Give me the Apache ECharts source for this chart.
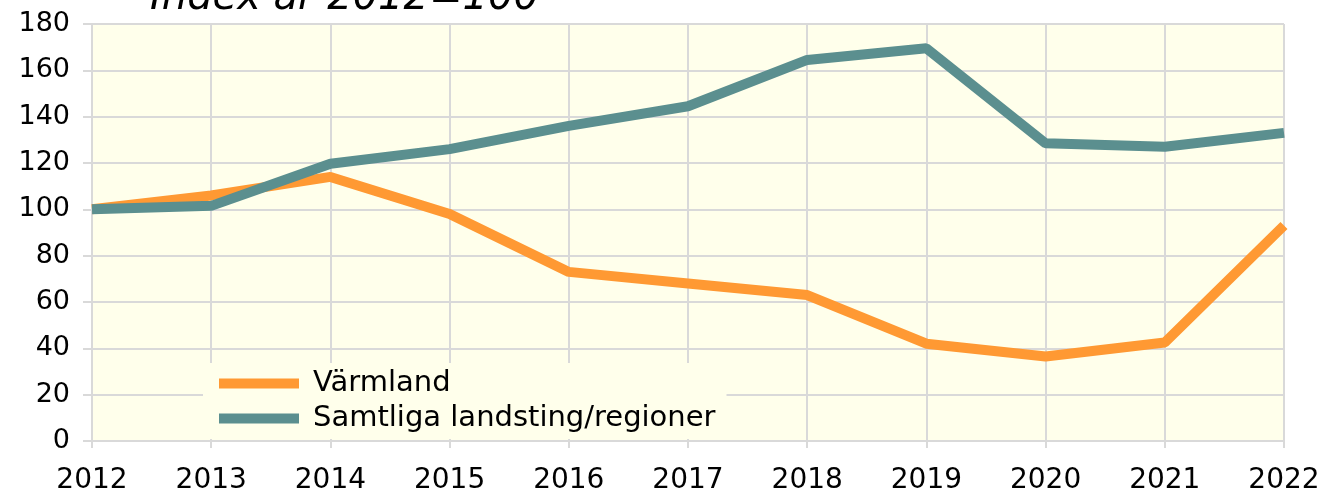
<!DOCTYPE html>
<html>
<head>
<meta charset="utf-8">
<script src="https://cdn.jsdelivr.net/npm/echarts@6/dist/echarts.min.js"></script>
<style>
html, body { margin: 0; padding: 0; background: #fff; }
#chart { width: 1334px; height: 497px; }
</style>
</head>
<body>
<div id="chart"></div>
<script>
var years = ['2012', '2013', '2014', '2015', '2016', '2017', '2018', '2019', '2020', '2021', '2022'];
var varmland = [100, 106, 114, 98, 73, 68, 63, 42, 36.5, 42.5, 93];
var samtliga = [100, 101.5, 119.7, 126, 136, 144.5, 164.5, 169.5, 128.5, 127, 133];
var seriesNames = ['Värmland', 'Samtliga landsting/regioner'];
var titleText = 'Index år 2012=100';

var gridColor = '#d9d9d9';
var chart = echarts.init(document.getElementById('chart'));

chart.setOption({
    animation: false,
    textStyle: { fontFamily: 'DejaVu Sans' },
    graphic: [{
        type: 'text',
        left: 150,
        top: -21,
        style: {
            text: titleText,
            font: 'italic 40px "DejaVu Sans"',
            fill: '#000'
        }
    }],
    grid: { left: 92, right: 50, top: 24, bottom: 56, backgroundColor: '#ffffeb', show: true, borderWidth: 0 },
    legend: {
        orient: 'vertical',
        left: 203,
        top: 363,
        padding: [6, 11, 6, 16],
        itemGap: 6,
        itemWidth: 80,
        itemHeight: 10,
        icon: 'rect',
        backgroundColor: '#ffffeb',
        textStyle: { fontSize: 29, color: '#000', padding: [0, 0, 0, 9] },
        data: seriesNames
    },
    xAxis: {
        type: 'category',
        data: years,
        boundaryGap: false,
        axisLine: { lineStyle: { color: gridColor, width: 2 } },
        axisTick: { show: true, length: 7, lineStyle: { color: gridColor, width: 2 } },
        axisLabel: { fontSize: 28, color: '#000', margin: 26 },
        splitLine: { show: true, lineStyle: { color: gridColor, width: 2 } }
    },
    yAxis: {
        type: 'value',
        min: 0,
        max: 180,
        interval: 20,
        axisLine: { show: true, lineStyle: { color: gridColor, width: 2 } },
        axisTick: { show: true, length: 9, lineStyle: { color: gridColor, width: 2 } },
        axisLabel: { fontSize: 27, color: '#000', margin: 22 },
        splitLine: { show: true, lineStyle: { color: gridColor, width: 2 } }
    },
    series: [{
        name: seriesNames[0],
        type: 'line',
        data: varmland,
        showSymbol: false,
        color: '#ff9933',
        lineStyle: { width: 10, color: '#ff9933' }
    }, {
        name: seriesNames[1],
        type: 'line',
        data: samtliga,
        showSymbol: false,
        color: '#5b8f8f',
        lineStyle: { width: 10, color: '#5b8f8f' }
    }]
});
</script>
</body>
</html>
